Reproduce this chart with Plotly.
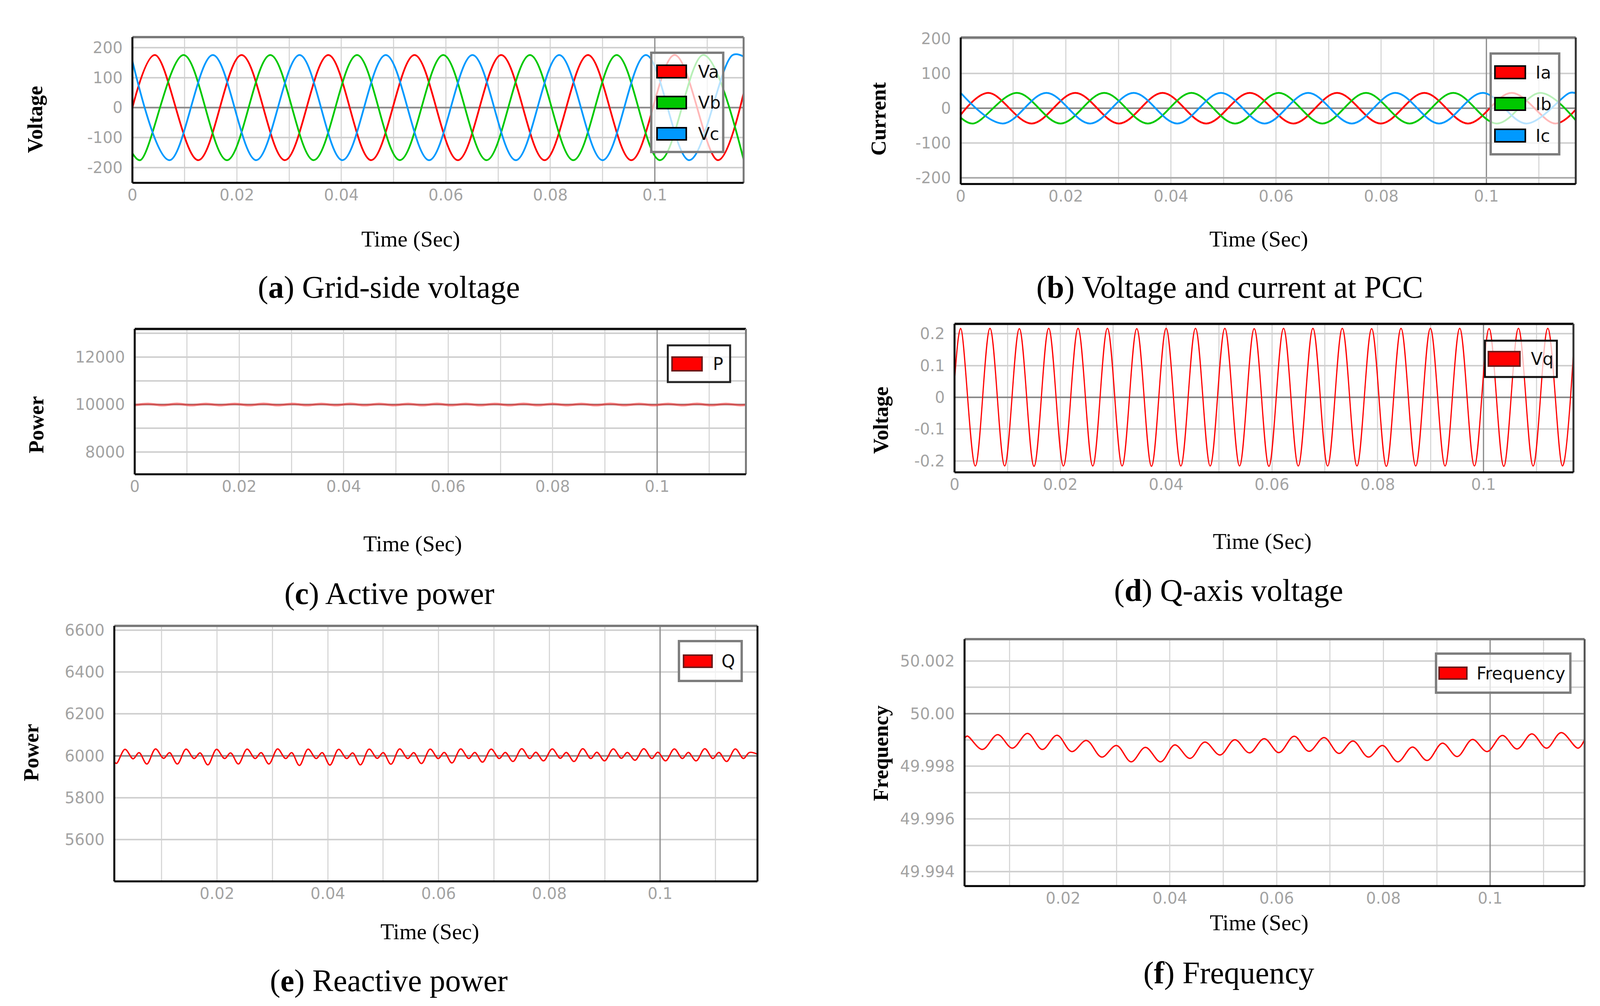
import plotly.graph_objects as go

W, H = 4157, 2575

# ---------------- data ----------------
# (a) grid-side voltages: start, alternating extrema, end
VA_T = [0.0, 0.0043, 0.0126, 0.0209, 0.0292, 0.0375, 0.0457, 0.0540, 0.0623, 0.0706, 0.0789, 0.0872, 0.0955, 0.1038, 0.1121, 0.1170]
VA_V = [0, 175, -175, 175, -175, 175, -175, 175, -175, 175, -175, 175, -175, 175, -175, 48]
VB_T = [0.0, 0.0015, 0.0098, 0.0181, 0.0264, 0.0347, 0.0430, 0.0512, 0.0595, 0.0678, 0.0761, 0.0844, 0.0927, 0.1010, 0.1093, 0.1170]
VB_V = [-152, -175, 175, -175, 175, -175, 175, -175, 175, -175, 175, -175, 175, -175, 175, -173]
VC_T = [0.0, 0.0071, 0.0154, 0.0237, 0.0320, 0.0402, 0.0485, 0.0568, 0.0651, 0.0734, 0.0817, 0.0900, 0.0983, 0.1066, 0.1149, 0.1170]
VC_V = [155, -175, 175, -175, 175, -175, 175, -175, 175, -175, 175, -175, 175, -175, 175, 170]

# (b) currents at PCC
IA_T = [0.0, 0.0052, 0.0135, 0.0218, 0.0301, 0.0384, 0.0467, 0.0550, 0.0633, 0.0716, 0.0799, 0.0882, 0.0965, 0.1048, 0.1131, 0.1170]
IA_V = [-19, 44, -44, 44, -44, 44, -44, 44, -44, 44, -44, 44, -44, 44, -44, -4]
IB_T = [0.0, 0.0024, 0.0107, 0.0190, 0.0273, 0.0356, 0.0439, 0.0522, 0.0605, 0.0688, 0.0771, 0.0854, 0.0937, 0.1020, 0.1103, 0.1170]
IB_V = [-27, -44, 44, -44, 44, -44, 44, -44, 44, -44, 44, -44, 44, -44, 44, -35]
IC_T = [0.0, 0.0080, 0.0163, 0.0246, 0.0329, 0.0412, 0.0495, 0.0578, 0.0661, 0.0744, 0.0827, 0.0910, 0.0993, 0.1076, 0.1159, 0.1170]
IC_V = [44, -44, 44, -44, 44, -44, 44, -44, 44, -44, 44, -44, 44, -44, 44, 43]

# (c) active power ripple
P_PEAK_T = [0.00255, 0.00808, 0.01361, 0.01914, 0.02467, 0.03020, 0.03573, 0.04126, 0.04679, 0.05232, 0.05785,
            0.06338, 0.06891, 0.07444, 0.07997, 0.08550, 0.09103, 0.09656, 0.10209, 0.10762, 0.11315]
P_PEAK_V = [10030, 10031, 10030, 10030, 10031, 10030, 10030, 10031, 10030, 10030, 10031,
            10030, 10030, 10031, 10030, 10030, 10031, 10030, 10030, 10031, 10030]
P_TROUGH_T = [0.00531, 0.01084, 0.01637, 0.02190, 0.02743, 0.03296, 0.03849, 0.04402, 0.04955, 0.05508, 0.06061,
              0.06614, 0.07167, 0.07720, 0.08273, 0.08826, 0.09379, 0.09932, 0.10485, 0.11038, 0.11591]
P_TROUGH_V = [9971, 9970, 9971, 9970, 9971, 9970, 9971, 9970, 9971, 9970, 9971,
              9970, 9971, 9970, 9971, 9970, 9971, 9970, 9971, 9970, 9971]
P_EDGE_T = [0.0, 0.117]
P_EDGE_V = [9974, 9988]

# (d) q-axis voltage
VQ_PEAK_T = [0.00115, 0.00670, 0.01225, 0.01780, 0.02335, 0.02890, 0.03445, 0.04000, 0.04555, 0.05110, 0.05665,
             0.06220, 0.06775, 0.07330, 0.07885, 0.08440, 0.08995, 0.09550, 0.10105, 0.10660, 0.11215]
VQ_PEAK_V = [0.217, 0.217, 0.216, 0.217, 0.217, 0.217, 0.216, 0.217, 0.217, 0.217, 0.216,
             0.217, 0.217, 0.217, 0.216, 0.217, 0.217, 0.217, 0.216, 0.217, 0.217]
VQ_TROUGH_T = [0.00393, 0.00948, 0.01503, 0.02058, 0.02613, 0.03168, 0.03723, 0.04278, 0.04833, 0.05388, 0.05943,
               0.06498, 0.07053, 0.07608, 0.08163, 0.08718, 0.09273, 0.09828, 0.10383, 0.10938, 0.11493]
VQ_TROUGH_V = [-0.216, -0.216, -0.217, -0.216, -0.216, -0.216, -0.217, -0.216, -0.216, -0.216, -0.217,
               -0.216, -0.216, -0.216, -0.217, -0.216, -0.216, -0.216, -0.217, -0.216, -0.216]
VQ_EDGE_T = [0.0, 0.117]
VQ_EDGE_V = [0.05, 0.14]

# (e) reactive power: big peak, shallow trough, small peak, deep trough in every ripple period
Q_BIG_T = [0.00338, 0.00889, 0.01440, 0.01991, 0.02542, 0.03093, 0.03644, 0.04195, 0.04746, 0.05297, 0.05848,
           0.06399, 0.06950, 0.07501, 0.08052, 0.08603, 0.09154, 0.09705, 0.10256, 0.10807, 0.11358]
Q_BIG_V = [6031, 6033, 6032, 6031, 6032, 6033, 6032, 6031, 6032, 6033, 6032,
           6033, 6032, 6034, 6033, 6034, 6033, 6034, 6033, 6034, 6033]
Q_SHALLOW_T = [0.00484, 0.01035, 0.01586, 0.02137, 0.02688, 0.03239, 0.03790, 0.04341, 0.04892, 0.05443, 0.05994,
               0.06545, 0.07096, 0.07647, 0.08198, 0.08749, 0.09300, 0.09851, 0.10402, 0.10953, 0.11504]
Q_SHALLOW_V = [5986, 5988, 5987, 5987, 5987, 5987, 5987, 5987, 5988, 5987, 5987,
               5987, 5987, 5987, 5988, 5987, 5988, 5987, 5987, 5987, 5987]
Q_SMALL_T = [0.00592, 0.01143, 0.01694, 0.02245, 0.02796, 0.03347, 0.03898, 0.04449, 0.05000, 0.05551, 0.06102,
             0.06653, 0.07204, 0.07755, 0.08306, 0.08857, 0.09408, 0.09959, 0.10510, 0.11061, 0.11612]
Q_SMALL_V = [6015, 6015, 6014, 6014, 6015, 6015, 6015, 6014, 6015, 6015, 6016,
             6016, 6016, 6017, 6016, 6017, 6016, 6017, 6016, 6016, 6016]
Q_DEEP_T = [0.00185, 0.00732, 0.01283, 0.01834, 0.02385, 0.02936, 0.03487, 0.04038, 0.04589, 0.05140, 0.05691,
            0.06242, 0.06793, 0.07344, 0.07895, 0.08446, 0.08997, 0.09548, 0.10099, 0.10650, 0.11201]
Q_DEEP_V = [5964, 5961, 5961, 5957, 5961, 5961, 5954, 5956, 5957, 5960, 5963,
            5966, 5970, 5973, 5976, 5973, 5976, 5979, 5976, 5976, 5973]
Q_EDGE_T = [0.00145, 0.11758]
Q_EDGE_V = [5972, 6008]

# (f) frequency
F_PEAK_T = [0.00202, 0.00773, 0.01334, 0.01886, 0.02438, 0.02999, 0.03541, 0.04093, 0.04654, 0.05216, 0.05767,
            0.06329, 0.06890, 0.07432, 0.07984, 0.08545, 0.09107, 0.09668, 0.10229, 0.10781, 0.11333]
F_PEAK_V = [49.99915, 49.99920, 49.99925, 49.99918, 49.99898, 49.99879, 49.99872, 49.99881, 49.99892, 49.99901, 49.99905,
            49.99914, 49.99909, 49.99896, 49.99879, 49.99873, 49.99888, 49.99902, 49.99917, 49.99923, 49.99928]
F_TROUGH_T = [0.00487, 0.01049, 0.01610, 0.02162, 0.02723, 0.03275, 0.03827, 0.04378, 0.04940, 0.05492, 0.06043,
              0.06605, 0.07166, 0.07718, 0.08270, 0.08821, 0.09383, 0.09944, 0.10505, 0.11057, 0.11647]
F_TROUGH_V = [49.99864, 49.99869, 49.99864, 49.99856, 49.99835, 49.99817, 49.99817, 49.99830, 49.99843, 49.99851, 49.99852,
              49.99857, 49.99849, 49.99835, 49.99817, 49.99822, 49.99837, 49.99856, 49.99866, 49.99869, 49.99869]
F_EDGE_T = [0.00153, 0.1177]
F_EDGE_V = [49.99905, 49.99902]

# tick labels
X_TICKS = [0, 0.02, 0.04, 0.06, 0.08, 0.1]
X_TICK_TEXT = ['0', '0.02', '0.04', '0.06', '0.08', '0.1']
X_MINOR = [0.01, 0.03, 0.05, 0.07, 0.09, 0.11]
Y_TICKS_A = [-200, -100, 0, 100, 200]
Y_TEXT_A = ['-200', '-100', '0', '100', '200']
Y_TICKS_C = [8000, 10000, 12000]
Y_TEXT_C = ['8000', '10000', '12000']
Y_MINOR_C = [9000, 11000, 13000]
Y_TICKS_D = [-0.2, -0.1, 0, 0.1, 0.2]
Y_TEXT_D = ['-0.2', '-0.1', '0', '0.1', '0.2']
Y_TICKS_E = [5600, 5800, 6000, 6200, 6400, 6600]
Y_TEXT_E = ['5600', '5800', '6000', '6200', '6400', '6600']
Y_TICKS_F = [49.994, 49.996, 49.998, 50.0, 50.002]
Y_TEXT_F = ['49.994', '49.996', '49.998', '50.00', '50.002']
Y_MINOR_F = [49.995, 49.997, 49.999, 50.001]


def merge(*pairs):
    pts = []
    for ts, vs in pairs:
        pts.extend(zip(ts, vs))
    pts.sort(key=lambda p: p[0])
    return [p[0] for p in pts], [p[1] for p in pts]


P_T, P_V = merge((P_EDGE_T, P_EDGE_V), (P_PEAK_T, P_PEAK_V), (P_TROUGH_T, P_TROUGH_V))
VQ_T, VQ_V = merge((VQ_EDGE_T, VQ_EDGE_V), (VQ_PEAK_T, VQ_PEAK_V), (VQ_TROUGH_T, VQ_TROUGH_V))
Q_T, Q_V = merge((Q_EDGE_T, Q_EDGE_V), (Q_BIG_T, Q_BIG_V), (Q_SHALLOW_T, Q_SHALLOW_V),
                 (Q_SMALL_T, Q_SMALL_V), (Q_DEEP_T, Q_DEEP_V))
F_T, F_V = merge((F_EDGE_T, F_EDGE_V), (F_PEAK_T, F_PEAK_V), (F_TROUGH_T, F_TROUGH_V))

RED = '#ff0000'
GREEN = '#00c800'
BLUE = '#0099ff'

fig = go.Figure()


def px_x(p):
    return p / W


def px_y(p):
    return 1 - p / H


def add_line(t, v, color, width, ax):
    fig.add_trace(go.Scatter(x=t, y=v, mode='lines', line=dict(color=color, width=width, shape='spline'),
                             xaxis='x' + ax, yaxis='y' + ax, showlegend=False, hoverinfo='skip'))


add_line(VA_T, VA_V, RED, 4.5, '')
add_line(VB_T, VB_V, GREEN, 4.5, '')
add_line(VC_T, VC_V, BLUE, 4.5, '')
add_line(IA_T, IA_V, RED, 4.5, '2')
add_line(IB_T, IB_V, GREEN, 4.5, '2')
add_line(IC_T, IC_V, BLUE, 4.5, '2')
add_line(P_T, P_V, 'rgba(255,40,40,0.55)', 6, '3')
add_line(VQ_T, VQ_V, RED, 3, '4')
add_line(Q_T, Q_V, RED, 3.5, '5')
add_line(F_T, F_V, RED, 3.5, '6')

# panel geometry in pixels: (x0, x1, y0_top, y1_bottom)
panels = [
    dict(ax='', px=(344, 1932, 95, 468), xr=[0, 0.117], yr=[-250.5, 234.6], yt=Y_TICKS_A, ytt=Y_TEXT_A, ym=[],
         top='#7a7a7a', right='#7a7a7a', hl=[(0, '#8a8a8a')]),
    dict(ax='2', px=(2496, 4094, 96, 471), xr=[0, 0.117], yr=[-217.6, 202.8], yt=Y_TICKS_A, ytt=Y_TEXT_A, ym=[],
         top='#7a7a7a', right='#333333', hl=[(0, '#8a8a8a'), (-200, '#a8a8a8')]),
    dict(ax='3', px=(350, 1938, 842, 1214), xr=[0, 0.117], yr=[7063, 13183], yt=Y_TICKS_C, ytt=Y_TEXT_C, ym=Y_MINOR_C,
         top='#111111', right='#7a7a7a', hl=[(10000, '#8a8a8a')]),
    dict(ax='4', px=(2480, 4088, 829, 1209), xr=[0, 0.117], yr=[-0.236, 0.231], yt=Y_TICKS_D, ytt=Y_TEXT_D, ym=[],
         top='#111111', right='#333333', hl=[(0, '#8a8a8a')]),
    dict(ax='5', px=(297, 1968, 1602, 2256), xr=[0.00145, 0.11758], yr=[5401, 6620], yt=Y_TICKS_E, ytt=Y_TEXT_E, ym=[],
         top='#7a7a7a', right='#111111', hl=[(6000, '#8a8a8a')]),
    dict(ax='6', px=(2506, 4117, 1636, 2268), xr=[0.00153, 0.1177], yr=[49.99345, 50.00283], yt=Y_TICKS_F,
         ytt=Y_TEXT_F, ym=Y_MINOR_F, top='#7a7a7a', right='#555555', hl=[(50.0, '#8a8a8a')]),
]

TICKFONT = dict(family='DejaVu Sans', size=40, color='#a3a3a3')
HGRID = '#d0d0d0'
VGRID = '#d8d8d8'
shapes = []
layout_axes = {}
for p in panels:
    x0, x1, yt_, yb_ = p['px']
    ax = p['ax']
    xkey = 'xaxis' + ax
    ykey = 'yaxis' + ax
    layout_axes[xkey] = dict(
        domain=[px_x(x0), px_x(x1)], range=p['xr'], anchor='y' + ax,
        tickmode='array', tickvals=X_TICKS, ticktext=X_TICK_TEXT, tickfont=TICKFONT,
        showgrid=True, gridcolor=VGRID, gridwidth=2.5, zeroline=False, showline=False, ticks='',
        ticklabelstandoff=4,
        minor=dict(tickvals=X_MINOR, showgrid=True, gridcolor=VGRID, gridwidth=2.5, ticks=''),
        fixedrange=True)
    ydict = dict(
        domain=[px_y(yb_), px_y(yt_)], range=p['yr'], anchor='x' + ax,
        tickmode='array', tickvals=p['yt'], ticktext=p['ytt'], tickfont=TICKFONT,
        showgrid=True, gridcolor=HGRID, gridwidth=3.5, zeroline=False, showline=False, ticks='',
        ticklabelstandoff=24, fixedrange=True)
    if p['ym']:
        ydict['minor'] = dict(tickvals=p['ym'], showgrid=True, gridcolor=HGRID, gridwidth=3.5, ticks='')
    layout_axes[ykey] = ydict

    xr_ = 'x' + ax
    yr_ = 'y' + ax
    # emphasised grid lines (between grid and traces, plain data refs)
    shapes.append(dict(type='line', xref=xr_, yref=yr_, x0=0.1, x1=0.1, y0=p['yr'][0], y1=p['yr'][1],
                       line=dict(color='#8a8a8a', width=3), layer='between'))
    for val, col in p['hl']:
        shapes.append(dict(type='line', xref=xr_, yref=yr_, x0=p['xr'][0], x1=p['xr'][1], y0=val, y1=val,
                           line=dict(color=col, width=4), layer='between'))
    # frame
    shapes.append(dict(type='line', xref=xr_ + ' domain', yref=yr_ + ' domain', x0=0, x1=1, y0=1, y1=1,
                       line=dict(color=p['top'], width=6), layer='above'))
    shapes.append(dict(type='line', xref=xr_ + ' domain', yref=yr_ + ' domain', x0=1, x1=1, y0=0, y1=1,
                       line=dict(color=p['right'], width=5), layer='above'))
    shapes.append(dict(type='line', xref=xr_ + ' domain', yref=yr_ + ' domain', x0=0, x1=0, y0=0, y1=1,
                       line=dict(color='#000000', width=5), layer='above'))
    shapes.append(dict(type='line', xref=xr_ + ' domain', yref=yr_ + ' domain', x0=0, x1=1, y0=0, y1=0,
                       line=dict(color='#000000', width=5), layer='above'))


def prect(x0, y0, x1, y1, fill, lcolor, lw):
    shapes.append(dict(type='rect', xref='paper', yref='paper', x0=px_x(x0), x1=px_x(x1),
                       y0=px_y(y1), y1=px_y(y0), fillcolor=fill, line=dict(color=lcolor, width=lw),
                       layer='above'))


annotations = []


def ptext(x, y, text, size, family, color='#000000', xanchor='center', angle=0):
    annotations.append(dict(xref='paper', yref='paper', x=px_x(x), y=px_y(y), text=text, showarrow=False,
                            xanchor=xanchor, yanchor='middle', textangle=angle,
                            font=dict(family=family, size=size, color=color)))


LEG_FILL = 'rgba(255,255,255,0.72)'
LEG_FONT = 'DejaVu Sans'
legends = [
    dict(box=(1692, 135, 1879, 389), border='#7d7d7d', bw=6, sx=(1707, 1783), tx=1812, sw='#000000',
         items=[('Va', RED, 167, 199), ('Vb', GREEN, 247, 278), ('Vc', BLUE, 327, 358)]),
    dict(box=(3873, 137, 4051, 395), border='#7d7d7d', bw=6, sx=(3884, 3963), tx=3988, sw='#000000',
         items=[('Ia', RED, 169, 201), ('Ib', GREEN, 250, 282), ('Ic', BLUE, 331, 363)]),
    dict(box=(1735, 884, 1897, 978), border='#222222', bw=5, sx=(1746, 1824), tx=1850, sw='#6b1a1a',
         items=[('P', RED, 914, 949)]),
    dict(box=(3858, 872, 4045, 965), border='#111111', bw=5, sx=(3867, 3949), tx=3975, sw='#6b1a1a',
         items=[('Vq', RED, 900, 937)]),
    dict(box=(1764, 1641, 1927, 1743), border='#7d7d7d', bw=6, sx=(1776, 1850), tx=1872, sw='#6b1a1a',
         items=[('Q', RED, 1677, 1708)]),
    dict(box=(3731, 1673, 4080, 1773), border='#7d7d7d', bw=6, sx=(3739, 3811), tx=3834, sw='#6b1a1a',
         items=[('Frequency', RED, 1708, 1738)]),
]
for lg in legends:
    bx0, by0, bx1, by1 = lg['box']
    prect(bx0, by0, bx1, by1, LEG_FILL, lg['border'], lg['bw'])
    for name, col, sy0, sy1 in lg['items']:
        prect(lg['sx'][0], sy0, lg['sx'][1], sy1, col, lg['sw'], 4)
        ptext(lg['tx'], (sy0 + sy1) / 2, name, 44, LEG_FONT, '#111111', xanchor='left')

SERIF = 'Liberation Serif'
titles = [
    ('Voltage', 91, 306, 'Time (Sec)', 1067, 612, '(<b>a</b>) Grid-side voltage', 1010, 735),
    ('Current', 2283, 304, 'Time (Sec)', 3270, 612, '(<b>b</b>) Voltage and current at PCC', 3195, 735),
    ('Power', 94, 1087, 'Time (Sec)', 1072, 1392, '(<b>c</b>) Active power', 1012, 1519),
    ('Voltage', 2289, 1075, 'Time (Sec)', 3280, 1386, '(<b>d</b>) Q-axis voltage', 3192, 1511),
    ('Power', 81, 1926, 'Time (Sec)', 1117, 2385, '(<b>e</b>) Reactive power', 1010, 2510),
    ('Frequency', 2289, 1928, 'Time (Sec)', 3272, 2362, '(<b>f</b>) Frequency', 3193, 2490),
]
for yt, yx, yy, xt, xx, xy, cap, cx, cy in titles:
    ptext(yx, yy, '<b>' + yt + '</b>', 54, SERIF, angle=-90)
    ptext(xx, xy, xt, 57, SERIF)
    ptext(cx, cy, cap, 80, SERIF)

fig.update_layout(
    autosize=True, margin=dict(l=0, r=0, t=0, b=0, autoexpand=False),
    paper_bgcolor='white', plot_bgcolor='white', showlegend=False,
    shapes=shapes, annotations=annotations, **layout_axes)

FIT_SCRIPT = (
    "document.documentElement.style.margin='0';document.documentElement.style.overflow='hidden';"
    "document.body.style.margin='0';document.body.style.overflow='hidden';"
    "var gd=document.getElementById('{plot_id}');"
    "gd.style.position='fixed';gd.style.left='0';gd.style.top='0';"
    "gd.style.width=window.innerWidth+'px';gd.style.height=window.innerHeight+'px';"
    "Plotly.Plots.resize(gd);"
)

fig.write_html('out.html', config={'responsive': True, 'displayModeBar': False},
               default_width='100vw', default_height='100vh', post_script=FIT_SCRIPT)
